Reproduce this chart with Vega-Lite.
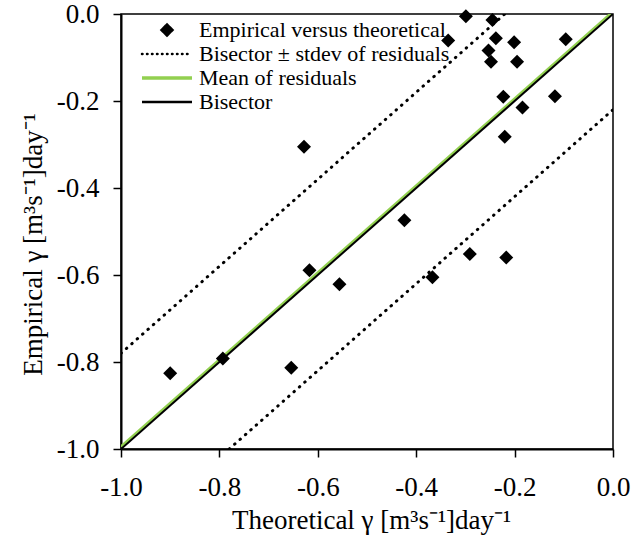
{
  "$schema": "https://vega.github.io/schema/vega-lite/v6.json",
  "width": 492,
  "height": 435,
  "autosize": {"type": "none"},
  "padding": {"left": 121, "top": 14, "right": 19, "bottom": 103},
  "background": "white",
  "config": {
    "font": "Liberation Serif",
    "view": {"stroke": "black", "strokeWidth": 1.5},
    "axis": {
      "grid": false,
      "domainColor": "black",
      "domainWidth": 2,
      "tickColor": "black",
      "tickWidth": 1.5,
      "tickSize": 8,
      "labelColor": "black",
      "titleColor": "black",
      "labelFont": "Liberation Serif",
      "titleFont": "Liberation Serif",
      "labelFontSize": 27,
      "titleFontSize": 27,
      "titleFontWeight": "normal"
    }
  },
  "datasets": {
    "pts": [
      {"theo": -0.299, "emp": -0.005, "series": "Empirical versus theoretical"},
      {"theo": -0.245, "emp": -0.014, "series": "Empirical versus theoretical"},
      {"theo": -0.335, "emp": -0.061, "series": "Empirical versus theoretical"},
      {"theo": -0.238, "emp": -0.056, "series": "Empirical versus theoretical"},
      {"theo": -0.201, "emp": -0.065, "series": "Empirical versus theoretical"},
      {"theo": -0.096, "emp": -0.058, "series": "Empirical versus theoretical"},
      {"theo": -0.253, "emp": -0.084, "series": "Empirical versus theoretical"},
      {"theo": -0.248, "emp": -0.110, "series": "Empirical versus theoretical"},
      {"theo": -0.195, "emp": -0.110, "series": "Empirical versus theoretical"},
      {"theo": -0.223, "emp": -0.190, "series": "Empirical versus theoretical"},
      {"theo": -0.118, "emp": -0.189, "series": "Empirical versus theoretical"},
      {"theo": -0.184, "emp": -0.215, "series": "Empirical versus theoretical"},
      {"theo": -0.220, "emp": -0.282, "series": "Empirical versus theoretical"},
      {"theo": -0.628, "emp": -0.305, "series": "Empirical versus theoretical"},
      {"theo": -0.424, "emp": -0.474, "series": "Empirical versus theoretical"},
      {"theo": -0.291, "emp": -0.552, "series": "Empirical versus theoretical"},
      {"theo": -0.217, "emp": -0.560, "series": "Empirical versus theoretical"},
      {"theo": -0.367, "emp": -0.605, "series": "Empirical versus theoretical"},
      {"theo": -0.617, "emp": -0.589, "series": "Empirical versus theoretical"},
      {"theo": -0.556, "emp": -0.621, "series": "Empirical versus theoretical"},
      {"theo": -0.900, "emp": -0.826, "series": "Empirical versus theoretical"},
      {"theo": -0.793, "emp": -0.792, "series": "Empirical versus theoretical"},
      {"theo": -0.654, "emp": -0.813, "series": "Empirical versus theoretical"}
    ],
    "lines": [
      {"theo": -1.0, "emp": -0.78, "series": "Bisector ± stdev of residuals", "seg": "upper"},
      {"theo": -0.22, "emp": 0.0, "series": "Bisector ± stdev of residuals", "seg": "upper"},
      {"theo": -0.78, "emp": -1.0, "series": "Bisector ± stdev of residuals", "seg": "lower"},
      {"theo": 0.0, "emp": -0.22, "series": "Bisector ± stdev of residuals", "seg": "lower"},
      {"theo": -1.0, "emp": -0.995, "series": "Mean of residuals", "seg": "mean"},
      {"theo": -0.005, "emp": 0.0, "series": "Mean of residuals", "seg": "mean"},
      {"theo": -1.0, "emp": -1.0, "series": "Bisector", "seg": "bis"},
      {"theo": 0.0, "emp": 0.0, "series": "Bisector", "seg": "bis"}
    ]
  },
  "encoding": {
    "x": {
      "field": "theo", "type": "quantitative",
      "scale": {"domain": [-1, 0], "nice": false, "zero": false},
      "axis": {"values": [-1, -0.8, -0.6, -0.4, -0.2, 0], "labelExpr": "replace(format(datum.value, '.1f'), '\u2212', '-')", "labelFont": "Liberation Serif", "labelFontSize": 27, "labelPadding": 17, "title": "Theoretical γ [m³s⁻¹]day⁻¹", "titleFont": "Liberation Serif", "titlePadding": 7, "titleX": 250, "labelFlush": false}
    },
    "y": {
      "field": "emp", "type": "quantitative",
      "scale": {"domain": [-1, 0], "nice": false, "zero": false},
      "axis": {"values": [-1, -0.8, -0.6, -0.4, -0.2, 0], "labelExpr": "replace(format(datum.value, '.1f'), '\u2212', '-')", "labelFont": "Liberation Serif", "labelFontSize": 27, "labelPadding": 14, "title": "Empirical γ [m³s⁻¹]day⁻¹", "titleFont": "Liberation Serif", "titlePadding": 9, "titleY": 230, "labelFlush": false}
    },
    "color": {
      "field": "series", "type": "nominal",
      "scale": {
        "domain": ["Empirical versus theoretical", "Bisector ± stdev of residuals", "Mean of residuals", "Bisector"],
        "range": ["black", "black", "#92D050", "black"]
      },
      "legend": {
        "title": null,
        "orient": "none",
        "legendX": 35,
        "legendY": 5,
        "padding": 0,
        "symbolSize": 100,
        "labelFont": "Liberation Serif",
        "labelFontSize": 22,
        "labelColor": "black",
        "labelLimit": 1000,
        "labelOffset": 21,
        "rowPadding": 2,
        "encode": {
          "symbols": {
            "update": {
              "shape": {"signal": "datum.value === 'Empirical versus theoretical' ? 'diamond' : 'stroke'"},
              "size": {"signal": "datum.value === 'Empirical versus theoretical' ? 121 : 2500"},
              "fill": {"signal": "datum.value === 'Empirical versus theoretical' ? 'black' : 'transparent'"},
              "stroke": {"signal": "datum.value === 'Mean of residuals' ? '#92D050' : (datum.value === 'Empirical versus theoretical' ? 'transparent' : 'black')"},
              "strokeWidth": {"signal": "datum.value === 'Mean of residuals' ? 3.5 : 2.5"},
              "strokeDash": {"signal": "datum.value === 'Bisector ± stdev of residuals' ? [0.5, 4.5] : [1, 0]"},
              "strokeCap": {"signal": "datum.value === 'Bisector ± stdev of residuals' ? 'round' : 'butt'"},
              "opacity": {"value": 1}
            }
          }
        }
      }
    }
  },
  "layer": [
    {
      "data": {"name": "lines"},
      "transform": [{"filter": "datum.seg === 'upper' || datum.seg === 'lower'"}],
      "mark": {"type": "line", "clip": true, "strokeWidth": 3, "strokeDash": [0.5, 6.7], "strokeCap": "round"},
      "encoding": {"detail": {"field": "seg"}}
    },
    {
      "data": {"name": "lines"},
      "transform": [{"filter": "datum.seg === 'mean'"}],
      "mark": {"type": "line", "clip": true, "strokeWidth": 3},
      "encoding": {}
    },
    {
      "data": {"name": "lines"},
      "transform": [{"filter": "datum.seg === 'bis'"}],
      "mark": {"type": "line", "clip": true, "strokeWidth": 2},
      "encoding": {}
    },
    {
      "data": {"name": "pts"},
      "mark": {"type": "point", "shape": "diamond", "filled": true, "size": 196, "opacity": 1},
      "encoding": {}
    }
  ]
}
